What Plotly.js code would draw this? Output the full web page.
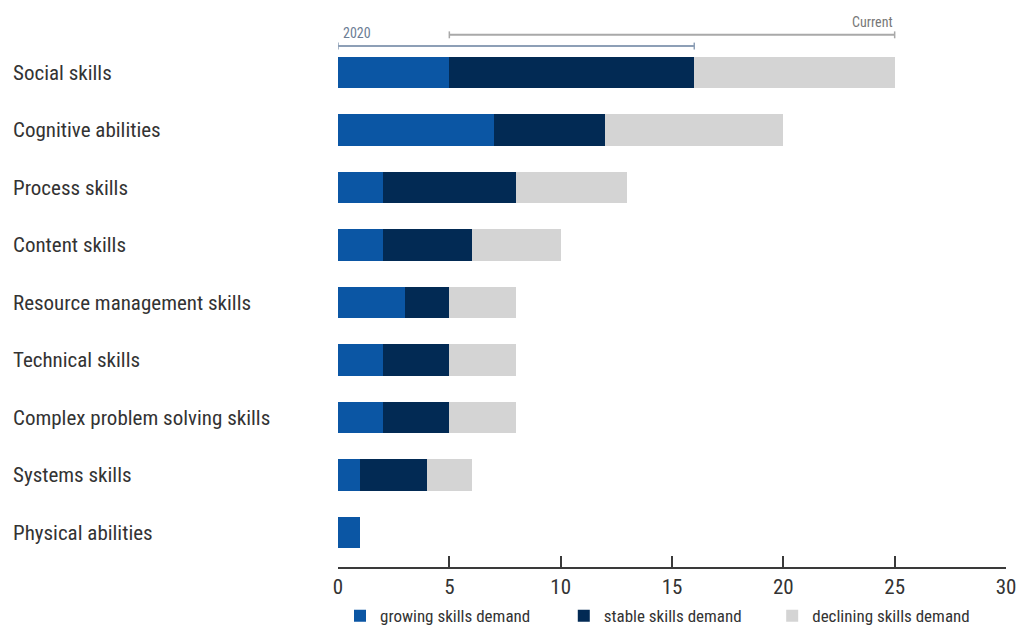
<!DOCTYPE html>
<html>
<head>
<meta charset="utf-8">
<script src="https://cdn.plot.ly/plotly-3.0.1.min.js"></script>
<style>html,body{margin:0;padding:0;background:#fff;}#chart{width:1021px;height:630px;}</style>
</head>
<body>
<div id="chart"></div>
<script>
var categories = ["Social skills","Cognitive abilities","Process skills","Content skills","Resource management skills","Technical skills","Complex problem solving skills","Systems skills","Physical abilities"];
var growing = [5,7,2,2,3,2,2,1,1];
var stable = [11,5,6,4,2,3,3,3,0];
var declining = [9,8,5,4,3,3,3,2,0];
var seriesNames = ["growing skills demand","stable skills demand","declining skills demand"];
var periodLabels = ["2020","Current"];
var periodStart = [0,5];
var periodEnd = [16,25];
var xTicks = [0,5,10,15,20,25,30];

var FONT = "Liberation Sans Narrow, Arial Narrow, Roboto Condensed, DejaVu Sans Condensed, sans-serif";
var colors = ["#0b56a4","#022a54","#d4d4d4"];
var vals = [growing, stable, declining];
var legendIds = ["legend","legend2","legend3"];

var traces = vals.map(function(v,i){
  return {type:"bar", orientation:"h", name:seriesNames[i], x:v, y:categories,
    marker:{color:colors[i], line:{width:0}}, legend:legendIds[i], hoverinfo:"x+name"};
});

var annotations = categories.map(function(c){
  return {xref:"paper", yref:"y", x:-0.4895, y:c, xanchor:"left", yanchor:"middle",
    text:c, showarrow:false, font:{family:FONT, size:21, color:"#333333"}};
});

var lineY = [-0.46, -0.655];
var lineCol = ["#8d9fb6","#a9a9a9"];
var shapes = [];
for (var k=0;k<periodLabels.length;k++){
  shapes.push({type:"line", xref:"x", yref:"y", x0:periodStart[k], x1:periodEnd[k], y0:lineY[k], y1:lineY[k], line:{color:lineCol[k], width:2}});
  shapes.push({type:"line", xref:"x", yref:"y", x0:periodStart[k], x1:periodStart[k], y0:lineY[k]-0.06, y1:lineY[k]+0.06, line:{color:lineCol[k], width:1.5}});
  shapes.push({type:"line", xref:"x", yref:"y", x0:periodEnd[k], x1:periodEnd[k], y0:lineY[k]-0.06, y1:lineY[k]+0.06, line:{color:lineCol[k], width:1.5}});
}
annotations.push({xref:"x", yref:"y", x:periodStart[0], y:-0.68, xanchor:"left", yanchor:"middle", xshift:3,
  text:periodLabels[0], showarrow:false, font:{family:FONT, size:14, color:"#6c7d94"}});
annotations.push({xref:"x", yref:"y", x:periodEnd[1], y:-0.87, xanchor:"right", yanchor:"middle",
  text:periodLabels[1], showarrow:false, font:{family:FONT, size:14, color:"#777777"}});

var legFont = {family:FONT, size:17, color:"#333333"};
var layout = {
  width:1021, height:630,
  margin:{l:338, r:15, t:20, b:63, autoexpand:false},
  paper_bgcolor:"#ffffff", plot_bgcolor:"#ffffff",
  barmode:"stack", bargap:0.46,
  showlegend:true,
  xaxis:{range:[0,30], tickvals:xTicks, ticktext:xTicks.map(String), showgrid:false, zeroline:false,
    showline:true, linecolor:"#3a3a3a", linewidth:2, ticks:"inside", ticklen:11, tickwidth:2, tickcolor:"#3a3a3a",
    tickfont:{family:FONT, size:21, color:"#333333"}, fixedrange:true, automargin:false},
  yaxis:{range:[8.6,-0.913], showticklabels:false, showgrid:false, zeroline:false, showline:false, ticks:"", fixedrange:true, automargin:false},
  legend:{x:0.003, y:-0.057, xanchor:"left", yanchor:"top", orientation:"h", font:legFont, bgcolor:"rgba(0,0,0,0)"},
  legend2:{x:0.338, y:-0.057, xanchor:"left", yanchor:"top", orientation:"h", font:legFont, bgcolor:"rgba(0,0,0,0)"},
  legend3:{x:0.650, y:-0.057, xanchor:"left", yanchor:"top", orientation:"h", font:legFont, bgcolor:"rgba(0,0,0,0)"},
  annotations:annotations,
  shapes:shapes
};
Plotly.newPlot("chart", traces, layout, {displayModeBar:false, staticPlot:true});
</script>
</body>
</html>
